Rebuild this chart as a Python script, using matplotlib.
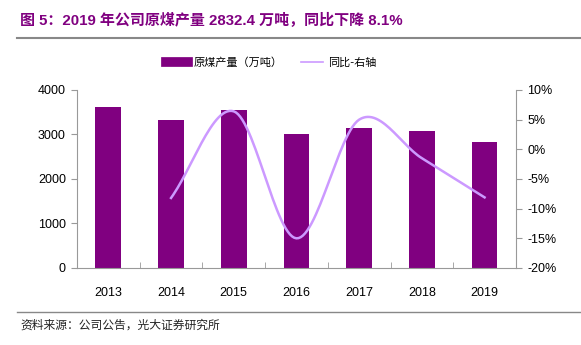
import numpy as np
import matplotlib.pyplot as plt
from matplotlib.lines import Line2D

plt.rcParams['font.family'] = ['Liberation Sans', 'Noto Sans CJK SC']

years = ['2013', '2014', '2015', '2016', '2017', '2018', '2019']
output = [3620, 3320, 3540, 3000, 3140, 3085, 2832.4]
yoy_years = [1, 2, 3, 4, 5, 6]
yoy = [-8.2, 6.4, -15.0, 5.0, -1.5, -8.1]

PURPLE = '#800080'
LILAC = '#CC99FF'
GRAY = '#999999'


def smooth(xs, ys, n=30):
    # catmull-rom curve through the points, like excel's smoothed line
    xs = list(xs)
    ys = list(ys)
    px = [2 * xs[0] - xs[1]] + xs + [2 * xs[-1] - xs[-2]]
    py = [2 * ys[0] - ys[1]] + ys + [2 * ys[-1] - ys[-2]]
    ox, oy = [], []
    t = np.linspace(0, 1, n)
    for i in range(1, len(px) - 2):
        for arr, src in ((ox, px), (oy, py)):
            p0, p1, p2, p3 = src[i - 1], src[i], src[i + 1], src[i + 2]
            arr.extend(0.5 * (2 * p1 + (-p0 + p2) * t
                              + (2 * p0 - 5 * p1 + 4 * p2 - p3) * t ** 2
                              + (-p0 + 3 * p1 - 3 * p2 + p3) * t ** 3))
    return ox, oy


fig = plt.figure(figsize=(5.81, 3.45), dpi=100)
ax = fig.add_axes([0.1325, 0.2232, 0.7555, 0.516])
x = np.arange(len(years))
ax.bar(x, output, width=0.41, color=PURPLE, zorder=2)
ax.set_xlim(-0.5, len(years) - 0.5)
ax.set_ylim(0, 4000)
ax.set_yticks([0, 1000, 2000, 3000, 4000])
ax.set_xticks(x)
ax.set_xticklabels(years)
ax.set_xticks(np.arange(-0.5, len(years), 1), minor=True)
ax.tick_params(axis='x', which='major', length=0, pad=14, labelsize=9)
ax.tick_params(axis='x', which='minor', length=4, color=GRAY, direction='in')
ax.tick_params(axis='y', length=4, color=GRAY, labelsize=9, pad=4)
for s in ['top', 'right']:
    ax.spines[s].set_visible(False)
for s in ['left', 'bottom']:
    ax.spines[s].set_color(GRAY)

ax2 = ax.twinx()
sx, sy = smooth(yoy_years, yoy)
ax2.plot(sx, sy, color=LILAC, lw=1.8, zorder=3)
ax2.set_ylim(-20, 10)
ax2.set_yticks(range(-20, 11, 5))
ax2.set_yticklabels([f'{v}%' for v in range(-20, 11, 5)])
ax2.tick_params(axis='y', length=4, color=GRAY, labelsize=9, pad=4)
for s in ['top', 'left', 'bottom']:
    ax2.spines[s].set_visible(False)
ax2.spines['right'].set_color(GRAY)

handles = [Line2D([], [], color=PURPLE, lw=7),
           Line2D([], [], color=LILAC, lw=1.2)]
fig.legend(handles, ['原煤产量（万吨）', '同比-右轴'], loc='center',
           bbox_to_anchor=(0.467, 0.82), ncol=2, frameon=False,
           handlelength=2.0, handletextpad=0.5, columnspacing=1.6,
           prop={'family': 'Noto Sans CJK SC', 'size': 8})

fig.text(0.034, 0.94, '图 5：2019 年公司原煤产量 2832.4 万吨，同比下降 8.1%',
         color=PURPLE, fontsize=10.8, fontweight='bold', va='center')
fig.add_artist(Line2D([0.03, 1.0], [0.89, 0.89], color='#888888', lw=1.5))
fig.add_artist(Line2D([0.03, 1.0], [0.095, 0.095], color='#888888', lw=1))
fig.text(0.035, 0.057, '资料来源：公司公告，光大证券研究所', fontsize=8.5,
         family='Noto Sans CJK SC', va='center', color='#222222')

fig.savefig('out.png', dpi=100)
